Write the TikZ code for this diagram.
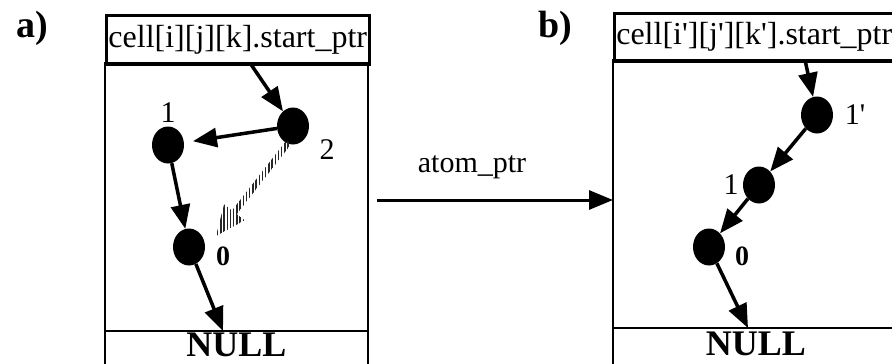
\documentclass[tikz,border=0pt]{standalone}
\usepackage{fontspec}
\setmainfont{Liberation Serif}
\usetikzlibrary{arrows.meta,shapes.geometric,patterns.meta}
\newcommand{\pq}{\textquotesingle}

\begin{document}
\begin{tikzpicture}[
    x=1pt, y=-1pt,
    >={Triangle[length=24pt,width=19pt]},
    frame/.style={draw, line width=2.5pt},
    cellhead/.style={frame, anchor=north west, inner sep=0pt, font=\fontsize{32}{32}\selectfont},
    atom/.style={ellipse, fill=black, minimum width=32pt, minimum height=37pt, inner sep=0pt},
    link/.style={->, line width=3.5pt},
    oldlink/.style={pattern={Lines[angle=90,distance=3.2pt,line width=1.4pt]}, pattern color=black!85},
    numlabel/.style={font=\fontsize{30}{30}\selectfont},
    boldlabel/.style={font=\fontsize{28}{28}\selectfont\bfseries},
    tag/.style={font=\fontsize{38}{38}\selectfont\bfseries, anchor=base west},
    nulltext/.style={font=\fontsize{36}{36}\selectfont\bfseries, anchor=base}
]
    \useasboundingbox (0,0) rectangle (892,364);

    % a) before the move
    \node[tag] (taga) at (13,37) {a)};
    \node[cellhead, minimum width=263pt, minimum height=49pt] (ahead) at (105,14) {cell[i][j][k].start\_ptr};
    \draw[frame] (105,63) rectangle (368,380);
    \draw[frame] (105,331) -- (368,331);
    \node[nulltext] (anull) at (236.5,356) {NULL};

    \node[atom] (an2) at (293,126) {};
    \node[atom] (an1) at (168,145) {};
    \node[atom] (an0) at (189,247) {};
    \node[numlabel] (an2lab) at (327,150) {2};
    \node[numlabel] (an1lab) at (168,113) {1};
    \node[boldlabel] (an0lab) at (223,256) {0};

    \coordinate (astart) at (250,63);
    \coordinate (aend) at (223,331);
    \draw[link] (astart) -- (an2);
    \draw[link, shorten >=9pt] (an2) -- (an1);
    \draw[link] (an1) -- (an0);
    \draw[link] (an0) -- (aend);
    % old link 2 -> 0, hatched
    \fill[oldlink] (286.6,140.2) -- (232.0,210.5) -- (224.1,204.3) -- (216,236)
        -- (244.7,220.3) -- (236.8,214.1) -- (291.4,143.8) -- cycle;

    % move to the new cell
    \coordinate (pstart) at (377,200);
    \coordinate (pend) at (613,200);
    \draw[->, line width=3pt] (pstart) -- (pend);
    \node[numlabel] (ptrlab) at (472,167) {atom\_ptr};

    % b) after the move
    \node[tag] (tagb) at (535,37) {b)};
    \node[cellhead, minimum width=280pt, minimum height=48pt] (bhead) at (613,12) {cell[i\pq][j\pq][k\pq].start\_ptr};
    \draw[frame] (613,60) rectangle (893,380);
    \draw[frame] (613,328) -- (893,328);
    \node[nulltext] (bnull) at (756,355) {NULL};

    \node[atom] (bn1p) at (817,115) {};
    \node[atom] (bn1) at (759,185) {};
    \node[atom] (bn0) at (709,247) {};
    \node[numlabel] (bn1plab) at (855,115) {1\pq};
    \node[numlabel] (bn1lab) at (731,185) {1};
    \node[boldlabel] (bn0lab) at (742,256) {0};

    \coordinate (bstart) at (805,60);
    \coordinate (bend) at (748,328);
    \draw[link] (bstart) -- (bn1p);
    \draw[link] (bn1p) -- (bn1);
    \draw[link] (bn1) -- (bn0);
    \draw[link] (bn0) -- (bend);
\end{tikzpicture}
\end{document}
